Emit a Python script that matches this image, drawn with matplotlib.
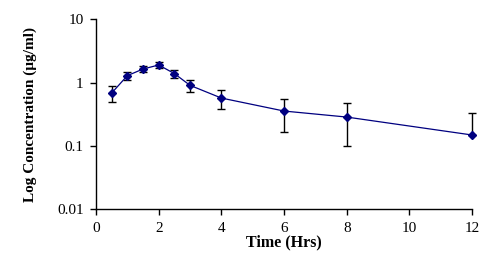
import numpy as np
import matplotlib.pyplot as plt
from matplotlib.ticker import FixedLocator, FixedFormatter, NullLocator

# time points (hours), mean concentration and SD (ug/ml)
time_hrs = [0.5, 1, 1.5, 2, 2.5, 3, 4, 6, 8, 12]
conc_mean = [0.685, 1.29, 1.64, 1.90, 1.39, 0.906, 0.571, 0.356, 0.286, 0.149]
conc_sd = [0.19, 0.17, 0.165, 0.20, 0.19, 0.19, 0.19, 0.19, 0.185, 0.187]

y_ticks = [0.01, 0.1, 1, 10]
y_tick_labels = ["0.01", "0.1", "1", "10"]
x_ticks = [0, 2, 4, 6, 8, 10, 12]

plt.rcParams['font.family'] = ['Liberation Serif', 'DejaVu Serif']

def main():
    t = np.array(time_hrs)
    m = np.array(conc_mean)
    sd = np.array(conc_sd)
    # lower bar is not drawn where it would go below zero (log axis)
    lower = np.where(m - sd > 0, sd, 0.0)

    fig = plt.figure(figsize=(4.98, 2.70), dpi=100)
    ax = fig.add_axes([0.1928, 0.2248, 0.7552, 0.7037])

    eb = ax.errorbar(t, m, yerr=[lower, sd], fmt='none', ecolor='black',
                     elinewidth=1, capsize=3, capthick=1, zorder=2)
    for art in eb.lines[1] + eb.lines[2]:
        art.set_clip_on(False)
    ax.plot(t, m, color='#000080', lw=0.9, marker='D', ms=4.5,
            mfc='#000080', mec='#000080', zorder=3, clip_on=False)

    ax.set_yscale('log')
    ax.set_ylim(0.01, 10)
    ax.set_xlim(0, 12)
    ax.yaxis.set_major_locator(FixedLocator(y_ticks))
    ax.yaxis.set_major_formatter(FixedFormatter(y_tick_labels))
    ax.yaxis.set_minor_locator(NullLocator())
    ax.set_xticks(x_ticks)

    for side in ['top', 'right']:
        ax.spines[side].set_visible(False)
    for side in ['left', 'bottom']:
        ax.spines[side].set_linewidth(1)
        ax.spines[side].set_color('black')
    ax.tick_params(direction='out', length=4, width=1, labelsize=11,
                   pad=5, colors='black')

    ax.set_xlabel('Time (Hrs)', fontsize=11.5, fontweight='bold', labelpad=0)
    ax.set_ylabel('Log Concentration (µg/ml)', fontsize=11,
                  fontweight='bold', labelpad=14)

    fig.savefig('out.png', dpi=100)

if __name__ == "__main__":
    main()
